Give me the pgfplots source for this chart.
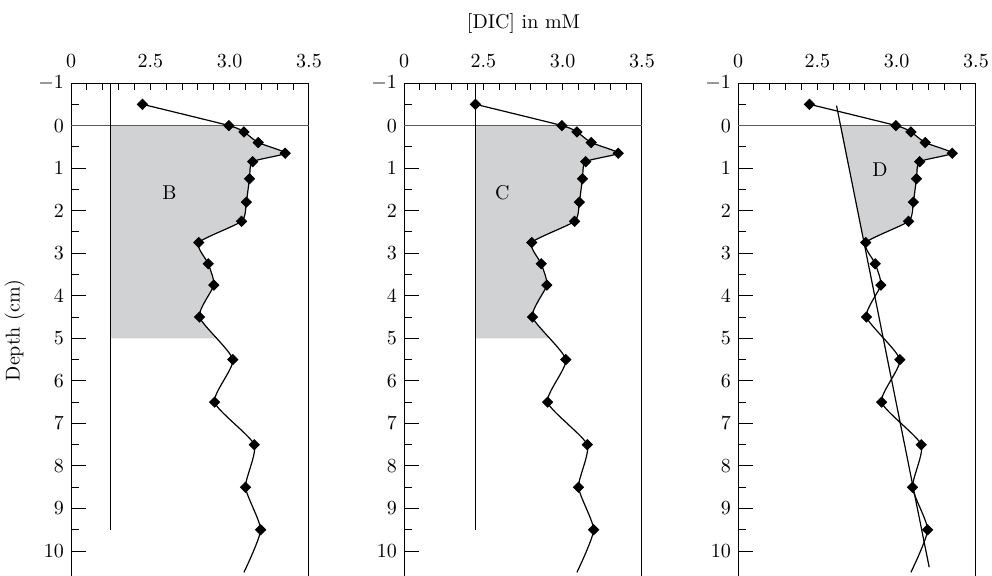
\documentclass[border=0pt]{standalone}
\usepackage{pgfplots}
\usepackage{pgfplotstable}
\pgfplotsset{compat=1.18}
\usepgfplotslibrary{fillbetween}

\definecolor{areagray}{HTML}{D1D2D4}
\definecolor{zeroline}{HTML}{5A5A5A}

% DIC profile (mM) against depth (cm); last row only continues the line
\pgfplotstableread{
depth dic
-0.5  2.45
0     2.995
0.15  3.09
0.4   3.18
0.65  3.35
0.85  3.145
1.25  3.125
1.8   3.105
2.25  3.075
2.75  2.805
3.25  2.865
3.75  2.90
4.5   2.81
5.5   3.02
6.5   2.905
7.5   3.155
8.5   3.10
9.5   3.195
10.5  3.09
}\dic

\pgfplotstableread{
depth dic
-1   2.25
9.5  2.25
}\baseB
\pgfplotstableread{
depth dic
-1   2.45
9.5  2.45
}\baseC
\pgfplotstableread{
depth dic
-0.47  2.621
10.38  3.205
}\baseD
% area D: between the straight line and the profile, 0 to 2.75 cm
\pgfplotstableread{
depth dic
0     2.646
0     2.995
0.15  3.09
0.4   3.18
0.65  3.35
0.85  3.145
1.25  3.125
1.8   3.105
2.25  3.075
2.75  2.805
2.75  2.796
}\areaD

% broken x axis: 0 | 2.5 | 3.0 | 3.5 equally spaced
\newcommand{\dicx}{2*\thisrow{dic}-4}

\pgfplotsset{
  panel/.style={
    scale only axis, width=119pt, height=247.2pt,
    anchor=north west,
    xmin=0, xmax=3, ymin=-1, ymax=10.62, y dir=reverse,
    xtick={0,1,2,3}, xticklabels={0,2.5,3.0,3.5},
    minor x tick num=4,
    ytick={-1,0,...,10}, minor y tick num=1,
    xtick pos=right, xticklabel pos=right,
    ytick pos=left,
    tick align=inside,
    major tick length=7.5pt, minor tick length=3.8pt,
    xtick style={/pgfplots/major tick length=3.5pt, /pgfplots/minor tick length=3.5pt},
    xticklabel style={yshift=4pt},
    axis line style={line width=0.5pt},
    tick style={line width=0.5pt, black},
  },
  prof/.style={black, line width=0.6pt, smooth, tension=0.35},
  pts/.style={only marks, mark=square*, mark size=1.8pt,
    mark options={rotate=45, fill=black}},
}

\begin{document}
\begin{tikzpicture}

% ---------- B ----------
\begin{axis}[panel, at={(35.5pt,-41.5pt)}, ylabel={Depth (cm)}]
  \addplot[prof, draw=none, name path=curve] table[x expr=\dicx, y=depth] {\dic};
  \addplot[draw=none, name path=base] table[x expr=\dicx, y=depth] {\baseB};
  \addplot[fill=areagray, draw=none] fill between[of=curve and base, soft clip={domain y=0:5}];
  \addplot[zeroline, line width=0.8pt] coordinates {(0,0) (3,0)};
  \addplot[black, line width=0.6pt] table[x expr=\dicx, y=depth] {\baseB};
  \addplot[prof] table[x expr=\dicx, y=depth] {\dic};
  \addplot[pts, restrict y to domain=-1:10] table[x expr=\dicx, y=depth] {\dic};
  \node at (axis cs:1.24,1.57) {B};
\end{axis}

% ---------- C ----------
\begin{axis}[panel, at={(202pt,-41.5pt)}]
  \addplot[prof, draw=none, name path=curve] table[x expr=\dicx, y=depth] {\dic};
  \addplot[draw=none, name path=base] table[x expr=\dicx, y=depth] {\baseC};
  \addplot[fill=areagray, draw=none] fill between[of=curve and base, soft clip={domain y=0:5}];
  \addplot[zeroline, line width=0.8pt] coordinates {(0,0) (3,0)};
  \addplot[black, line width=0.6pt] table[x expr=\dicx, y=depth] {\baseC};
  \addplot[prof] table[x expr=\dicx, y=depth] {\dic};
  \addplot[pts, restrict y to domain=-1:10] table[x expr=\dicx, y=depth] {\dic};
  \node at (axis cs:1.24,1.57) {C};
\end{axis}

% ---------- D ----------
\begin{axis}[panel, at={(369pt,-41.5pt)}]
  \addplot[fill=areagray, draw=none] table[x expr=\dicx, y=depth] {\areaD} -- cycle;
  \addplot[zeroline, line width=0.8pt] coordinates {(0,0) (3,0)};
  \addplot[black, line width=0.6pt] table[x expr=\dicx, y=depth] {\baseD};
  \addplot[prof] table[x expr=\dicx, y=depth] {\dic};
  \addplot[pts, restrict y to domain=-1:10] table[x expr=\dicx, y=depth] {\dic};
  \node at (axis cs:1.79,1.03) {D};
\end{axis}

\node[anchor=base] at (261.75pt,-14pt) {[DIC] in mM};

\pgfresetboundingbox
\path (0,0) rectangle (496pt,-287.5pt);
\end{tikzpicture}
\end{document}
